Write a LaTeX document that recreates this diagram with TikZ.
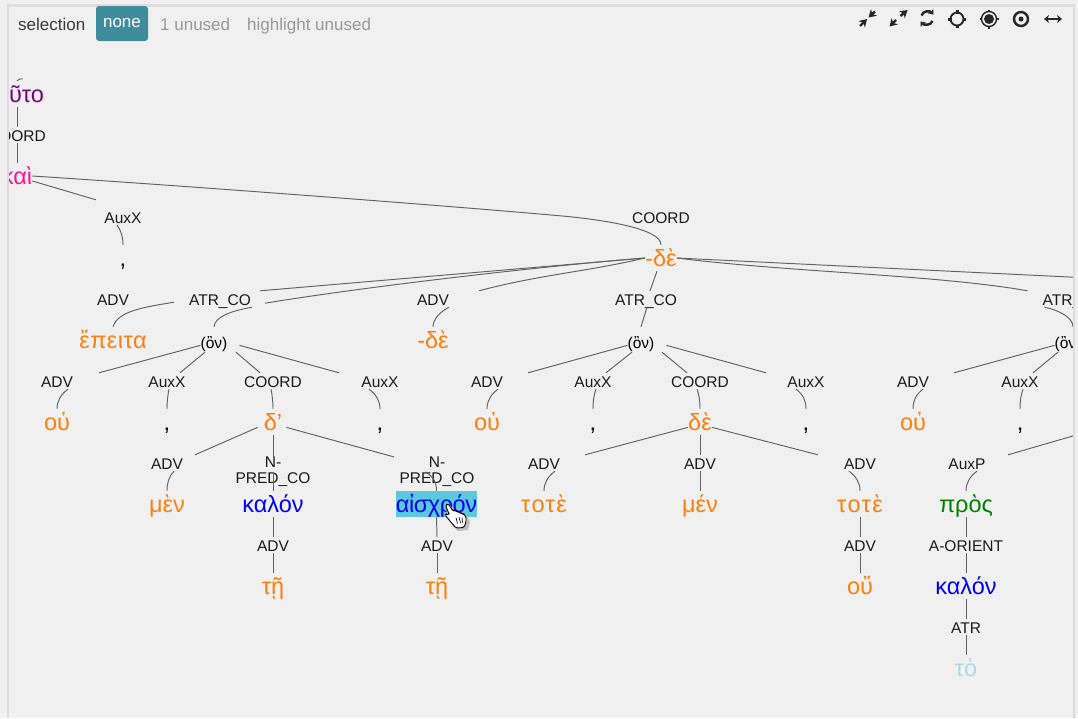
\documentclass[tikz,border=0pt]{standalone}
\usepackage{fontspec}
\setmainfont{Liberation Sans}
\definecolor{bgc}{HTML}{F0F0F0}
\definecolor{framec}{HTML}{DCDCDC}
\definecolor{btn}{HTML}{3F8C9D}
\definecolor{linkc}{HTML}{626262}
\definecolor{orng}{HTML}{FF7F0E}
\definecolor{pinkw}{HTML}{FF1493}
\definecolor{purp}{HTML}{800080}
\definecolor{grn}{HTML}{008000}
\definecolor{ltb}{HTML}{ADD8E6}
\definecolor{hl}{HTML}{5BC8DC}
\definecolor{grayt}{HTML}{989898}
\definecolor{dark}{HTML}{3A3A3A}
\definecolor{lab}{HTML}{1A1A1A}
\usetikzlibrary{arrows.meta}
\tikzset{
  wordn/.style={font=\fontsize{23.5}{24}\selectfont,text height=21pt,text depth=5pt,inner sep=0pt,anchor=base},
  labn/.style={font=\fontsize{15.5}{16}\selectfont,text=lab,text height=14pt,text depth=2pt,inner sep=0pt,anchor=base},
  twoline/.style={font=\fontsize{15.5}{16}\selectfont,text=lab,align=center,inner sep=0pt,anchor=center},
  onn/.style={font=\fontsize{15.5}{16}\selectfont,text=black,text height=21pt,text depth=4pt,inner sep=0pt,anchor=base},
  link/.style={draw=linkc,line width=0.95pt},
  toptext/.style={font=\fontsize{17}{18}\selectfont,inner sep=0pt,anchor=base west},
  icon/.style={draw=black!85,line width=2.4pt},
  icontip/.style={-{Stealth[length=7.5pt,width=9pt]},icon}
}
\begin{document}
\begin{tikzpicture}[x=1pt,y=-1pt]
\useasboundingbox (0,0) rectangle (1078,718);
\fill[bgc] (0,0) rectangle (1078,718);
\begin{scope}
\clip (8,5) rectangle (1073,718);
% row words and labels
\node[wordn,text=purp] (tauto) at (15.5,102) {τοῦτο};
\node[labn] (coord0) at (17,141) {COORD};
\node[wordn,text=pinkw] (kai) at (17,184) {καὶ};
\node[labn] (auxa) at (123,223) {AuxX};
\node[wordn] (ca) at (123,266) {,};
\node[labn] (coordm) at (661,223) {COORD};
\node[wordn,text=orng] (de) at (661,266) {-δὲ};
\node[labn] (adva) at (113,305) {ADV};
\node[labn] (atr1) at (220,305) {ATR\_CO};
\node[labn] (advb) at (433,305) {ADV};
\node[labn] (atr2) at (646,305) {ATR\_CO};
\node[labn] (atr3) at (1073.5,305) {ATR\_CO};
\node[wordn,text=orng] (epeita) at (113,348) {\addfontfeature{LetterSpace=2}ἔπειτα};
\node[onn] (on1) at (214,348) {(ὂν)};
\node[wordn,text=orng] (deb) at (433,348) {-δὲ};
\node[onn] (on2) at (641,348) {(ὂν)};
\node[onn] (on3) at (1068,348) {(ὂν)};
% first subtree
\node[labn] (t1adv) at (57,387) {ADV};
\node[labn] (t1xa) at (167,387) {AuxX};
\node[labn] (t1co) at (273,387) {COORD};
\node[labn] (t1xb) at (380,387) {AuxX};
\node[wordn,text=orng] (t1ou) at (57,430) {οὐ};
\node[wordn] (t1ca) at (167,430) {,};
\node[wordn,text=orng] (t1d) at (273,430) {δ’};
\node[wordn] (t1cb) at (380,430) {,};
\node[labn] (t1ad2) at (167,469) {ADV};
\node[twoline] (np1) at (273,472) {N-\\PRED\_CO};
\node[twoline] (np2) at (437,472) {N-\\PRED\_CO};
\node[wordn,text=orng] (men1) at (167,512) {μὲν};
\node[wordn,text=blue] (kal1) at (273,512) {καλόν};
\node[wordn,text=blue,fill=hl] (ais) at (436.5,512) {\addfontfeature{LetterSpace=-2}αἰσχρόν};
\node[labn] (t1ad3) at (273,551) {ADV};
\node[labn] (t1ad4) at (437,551) {ADV};
\node[wordn,text=orng] (ti1) at (273,594) {τῇ};
\node[wordn,text=orng] (ti2) at (437,594) {τῇ};
% second subtree
\node[labn] (t2adv) at (487,387) {ADV};
\node[labn] (t2xa) at (593,387) {AuxX};
\node[labn] (t2co) at (700,387) {COORD};
\node[labn] (t2xb) at (806,387) {AuxX};
\node[wordn,text=orng] (t2ou) at (487,430) {οὐ};
\node[wordn] (t2ca) at (593,430) {,};
\node[wordn,text=orng] (t2d) at (700,430) {δὲ};
\node[wordn] (t2cb) at (806,430) {,};
\node[labn] (t2ad1) at (544,469) {ADV};
\node[labn] (t2ad2) at (700,469) {ADV};
\node[labn] (t2ad3) at (860,469) {ADV};
\node[wordn,text=orng] (tote1) at (544,512) {\addfontfeature{LetterSpace=6}τοτὲ};
\node[wordn,text=orng] (men2) at (700,512) {μέν};
\node[wordn,text=orng] (tote2) at (860,512) {\addfontfeature{LetterSpace=6}τοτὲ};
\node[labn] (t2ad4) at (860,551) {ADV};
\node[wordn,text=orng] (ou3) at (860,594) {οὔ};
% third subtree
\node[labn] (t3adv) at (913,387) {ADV};
\node[labn] (t3xa) at (1020,387) {AuxX};
\node[wordn,text=orng] (t3ou) at (913,430) {οὐ};
\node[wordn] (t3ca) at (1020,430) {,};
\node[labn] (auxp) at (967,469) {AuxP};
\node[wordn,text=grn] (pros) at (966,512) {πρὸς};
\node[labn] (orient) at (966,551) {A-ORIENT};
\node[wordn,text=blue] (kal2) at (966,594) {καλόν};
\node[labn] (atr4) at (966,633) {ATR};
\node[wordn,text=ltb] (to) at (966,676) {τὸ};
\coordinate (offright) at (1090,431);
\coordinate (offtop) at (1090,278);
% connectors: top
\draw[link] ([xshift=1.5pt]tauto.north) .. controls +(2,-2) and +(-2,0) .. ([shift={(7,-2)}]tauto.north);
\draw[link] (coord0.north |- tauto.south) -- (coord0.north);
\draw[link] (coord0.south) -- (kai.north);
\draw[link] (kai.east) .. controls +(170,11) and +(-100,-9) .. ([shift={(-101,-29)}]de.north) .. controls +(45,4) and +(0,-16) .. (de.north);
\draw[link] ([yshift=-5pt]kai.east) -- ([shift={(-27,-9)}]auxa.north);
\draw[link] ([xshift=-6pt]auxa.south) .. controls +(4,5) and +(0,-8) .. (ca.north);
\draw[link] (de.west) -- ([xshift=40pt]atr1.north);
\draw[link] (epeita.north) .. controls +(5,-16) and +(-30,5) .. ([shift={(-46,-5)}]atr1.south);
\draw[link] (de.west) .. controls +(-90,7) and +(110,-18) .. ([shift={(45,-4)}]atr1.south);
\draw[link] ([xshift=32pt]atr1.south) .. controls +(-22,4) and +(1,-10) .. (on1.north);
\draw[link] (de.west) .. controls +(-60,14) and +(60,-16) .. ([xshift=46pt]advb.north);
\draw[link] ([xshift=16pt]advb.south) .. controls +(-8,4) and +(0,-8) .. (deb.north);
\draw[link] ([xshift=-4pt]de.south) -- ([xshift=4pt]atr2.north);
\draw[link] ([xshift=1pt]atr2.south) -- (on2.north);
\draw[link] (de.east) -- (offtop);
\draw[link] (de.east) .. controls +(110,14) and +(-90,-16) .. ([xshift=-46pt]atr3.north);
\draw[link] ([xshift=-29pt]atr3.south) .. controls +(15,3) and +(0,-9) .. ([xshift=-0.5pt]atr3.south |- on3.north);
% subtree 1
\draw[link] (on1.mid west) -- ([xshift=42pt]t1adv.north);
\draw[link] ([xshift=11pt]t1adv.south) .. controls +(-7,5) and +(0,-8) .. (t1ou.north);
\draw[link] ([xshift=-9pt]on1.south) -- ([xshift=13pt]t1xa.north);
\draw[link] ([xshift=2pt]t1xa.south) .. controls +(-1,5) and +(0,-8) .. (t1ca.north);
\draw[link] ([xshift=22pt]on1.south) -- ([xshift=-13pt]t1co.north);
\draw[link] ([xshift=-2pt]t1co.south) .. controls +(1,5) and +(0,-8) .. (t1d.north);
\draw[link] ([xshift=12pt]on1.mid east) -- ([xshift=-41pt]t1xb.north);
\draw[link] ([xshift=-11pt]t1xb.south) .. controls +(7,5) and +(0,-8) .. (t1cb.north);
\draw[link] ([xshift=-6pt]t1d.mid west) -- ([xshift=28pt]t1ad2.north);
\draw[link] ([xshift=7pt]t1ad2.south) .. controls +(-5,5) and +(0,-8) .. (men1.north);
\draw[link] (t1d.south) -- (np1.north);
\draw[link] ([shift={(0,16)}]np1.north) -- (kal1.north);
\draw[link] (kal1.south) -- (t1ad3.north);
\draw[link] (t1ad3.south) -- (ti1.north);
\draw[link] ([xshift=4pt]t1d.mid east) -- ([xshift=-43pt]np2.north);
\draw[link] ([shift={(-12,15)}]np2.north) .. controls +(8,4) and +(0,-9) .. (ais.north);
\draw[link] (ais.south) -- (t1ad4.north);
\draw[link] (t1ad4.south) -- (ti2.north);
% subtree 2
\draw[link] (on2.mid west) -- ([xshift=41pt]t2adv.north);
\draw[link] ([xshift=11pt]t2adv.south) .. controls +(-7,5) and +(0,-8) .. (t2ou.north);
\draw[link] ([xshift=-9pt]on2.south) -- ([xshift=13pt]t2xa.north);
\draw[link] ([xshift=3pt]t2xa.south) .. controls +(-2,5) and +(0,-8) .. (t2ca.north);
\draw[link] ([xshift=21pt]on2.south) -- ([xshift=-13pt]t2co.north);
\draw[link] ([xshift=-3pt]t2co.south) .. controls +(2,5) and +(0,-8) .. (t2d.north);
\draw[link] ([xshift=12pt]on2.mid east) -- ([xshift=-40pt]t2xb.north);
\draw[link] ([xshift=-10pt]t2xb.south) .. controls +(7,5) and +(0,-8) .. (t2cb.north);
\draw[link] (t2d.mid west) -- ([xshift=41pt]t2ad1.north);
\draw[link] ([xshift=11pt]t2ad1.south) .. controls +(-7,5) and +(0,-8) .. (tote1.north);
\draw[link] (t2d.south) -- (t2ad2.north);
\draw[link] (t2ad2.south) -- (men2.north);
\draw[link] (t2d.mid east) -- ([xshift=-42pt]t2ad3.north);
\draw[link] ([xshift=-11pt]t2ad3.south) .. controls +(7,5) and +(0,-8) .. (tote2.north);
\draw[link] (tote2.south) -- (t2ad4.north);
\draw[link] (t2ad4.south) -- (ou3.north);
% subtree 3
\draw[link] (on3.mid west) -- ([xshift=41pt]t3adv.north);
\draw[link] ([xshift=10pt]t3adv.south) .. controls +(-7,5) and +(0,-8) .. (t3ou.north);
\draw[link] ([xshift=-10pt]on3.south) -- ([xshift=13pt]t3xa.north);
\draw[link] ([xshift=3pt]t3xa.south) .. controls +(-2,5) and +(0,-8) .. (t3ca.north);
\draw[link] (offright) -- ([xshift=41pt]auxp.north);
\draw[link] ([xshift=10pt]auxp.south) .. controls +(-7,5) and +(0,-8) .. (pros.north);
\draw[link] (pros.south) -- (orient.north);
\draw[link] (orient.south) -- (kal2.north);
\draw[link] (kal2.south) -- (atr4.north);
\draw[link] (atr4.south) -- (to.north);
\end{scope}
% frame
\draw[framec,line width=2.2pt] (8,718) -- (8,5.5) -- (1074,5.5) -- (1074,718);
% tool bar
\node[toptext,text=dark] (sel) at (18,30) {selection};
\node[font=\fontsize{17}{18}\selectfont,text=white,fill=btn,rounded corners=3pt,minimum width=52pt,minimum height=35pt,inner sep=0pt] (none) at (122,23.5) {none};
\node[toptext,text=grayt] (unused) at (160,30) {1 unused};
\node[toptext,text=grayt] (hlu) at (247,30) {highlight unused};
% icons
\draw[icontip] (860,26) -- (867,19);
\draw[icontip] (875,11.5) -- (868.5,17.5);
\draw[icontip] (896,20) -- (889.5,26.5);
\draw[icontip] (900.5,16) -- (907.5,10);
\draw[icon,-{Stealth[length=4.5pt,width=7pt]}] (921.5,15.5) .. controls (923,10.5) and (930,10.5) .. (933.5,14.5);
\draw[icon,-{Stealth[length=4.5pt,width=7pt]}] (932.5,21) .. controls (931,25.5) and (924,25.5) .. (920.5,21.5);
\draw[icon,line width=1.8pt] (957,19) circle[radius=6.5pt];
\draw[icon,line width=3pt] (957,10) -- (957,13.5) (957,24.5) -- (957,28) (948,19) -- (951.5,19) (962.5,19) -- (966,19);
\fill[black!85] (989,19) circle[radius=5pt];
\draw[icon,line width=1.4pt] (989,19) circle[radius=7.5pt];
\draw[icon,line width=1.8pt] (989,9.5) -- (989,12) (989,26) -- (989,28.5) (979.5,19) -- (982,19) (996,19) -- (998.5,19);
\draw[icon] (1021,19) circle[radius=7pt];
\fill[black!85] (1021,19) circle[radius=2.5pt];
\draw[icon,{Stealth[length=5pt,width=8pt]}-{Stealth[length=5pt,width=8pt]}] (1044,19) -- (1062,19);
% hand cursor
\fill[black!25] (447,507) -- (450,505) -- (458,515) -- (467,516) -- (470,522) -- (468,530) -- (458,531) -- (453,526) -- (446,516) -- cycle;
\draw[black,fill=white,line width=0.9pt,rounded corners=1.5pt]
  (445.5,505.5) -- (448,503.5) -- (453,511) -- (455,510) -- (457,512) -- (459,511.5) -- (461,513.5) -- (463,513.5) -- (466,516.5) -- (466,522) -- (464,527.5) -- (456,528) -- (450,521) -- (445,515) -- (447,513.5) -- (449.5,515) -- cycle;
\draw[black,line width=0.7pt] (456,517.5) -- (457.5,523.5) (459,517) -- (460.5,523) (462,517.5) -- (462.5,522.5);
\end{tikzpicture}
\end{document}
